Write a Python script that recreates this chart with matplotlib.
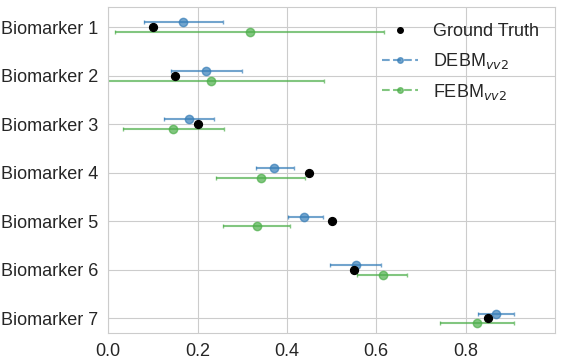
import numpy as np
import matplotlib
matplotlib.use("Agg")
import matplotlib.pyplot as plt
import seaborn as sns
from matplotlib.lines import Line2D

sns.set_style("whitegrid")
plt.rcParams['font.family'] = ['Liberation Sans', 'DejaVu Sans']

biomarkers = ["Biomarker 1", "Biomarker 2", "Biomarker 3", "Biomarker 4",
              "Biomarker 5", "Biomarker 6", "Biomarker 7"]
ground_truth = [0.10, 0.15, 0.20, 0.45, 0.50, 0.55, 0.85]

# centre, lower end, upper end of each interval
debm_mean = [0.168, 0.218, 0.181, 0.372, 0.439, 0.554, 0.868]
debm_low = [0.081, 0.140, 0.125, 0.331, 0.402, 0.496, 0.827]
debm_high = [0.256, 0.299, 0.237, 0.416, 0.481, 0.611, 0.909]

febm_mean = [0.317, 0.231, 0.146, 0.341, 0.332, 0.615, 0.825]
febm_low = [0.016, -0.02, 0.032, 0.242, 0.256, 0.558, 0.742]
febm_high = [0.617, 0.483, 0.259, 0.440, 0.406, 0.669, 0.909]

blue = '#377eb8'
green = '#4daf4a'

y = np.arange(len(biomarkers))

fig, ax = plt.subplots(figsize=(5.61, 3.62), dpi=100)

dm = np.array(debm_mean)
fm = np.array(febm_mean)
ax.errorbar(dm, y - 0.1, xerr=[dm - np.array(debm_low), np.array(debm_high) - dm],
            fmt='o', color=blue, alpha=0.7, ms=6, elinewidth=1.5, capsize=1.5)
ax.errorbar(fm, y + 0.1, xerr=[fm - np.array(febm_low), np.array(febm_high) - fm],
            fmt='o', color=green, alpha=0.7, ms=6, elinewidth=1.5, capsize=1.5)
ax.scatter(ground_truth, y, color='black', s=32, zorder=5)

ax.set_yticks(y)
ax.set_yticklabels(biomarkers, fontsize=13)
ax.set_xticks([0.0, 0.2, 0.4, 0.6, 0.8])
ax.tick_params(axis='x', labelsize=13)
ax.set_xlim(0, 1.0)
ax.set_ylim(6.3, -0.42)

handles = [
    Line2D([], [], color='black', marker='o', ls='none', ms=4),
    Line2D([], [], color=blue, alpha=0.7, marker='o', ls='--', ms=4),
    Line2D([], [], color=green, alpha=0.7, marker='o', ls='--', ms=4),
]
labels = ['Ground Truth', 'DEBM$_{vv2}$', 'FEBM$_{vv2}$']
ax.legend(handles, labels, loc='upper right', fontsize=13, frameon=False,
          labelspacing=0.6)

plt.subplots_adjust(left=0.193, right=0.989, top=0.981, bottom=0.08)
plt.savefig('out.png')
